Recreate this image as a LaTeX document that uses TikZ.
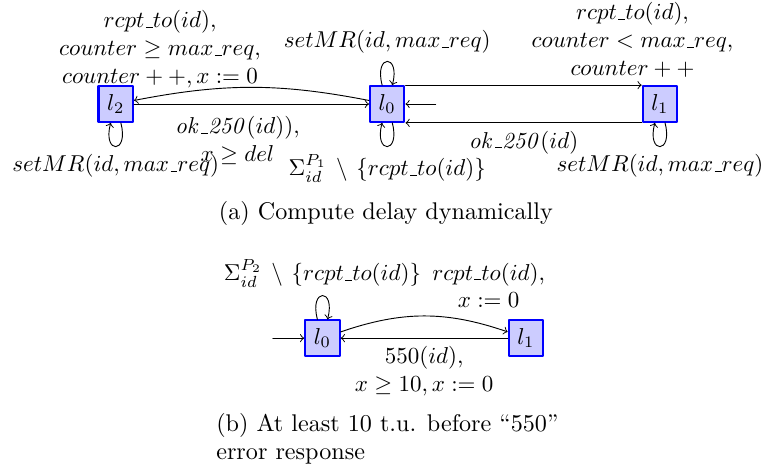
\documentclass[tikz,border=0pt]{standalone}
\definecolor{locfill}{RGB}{204,204,255}
\newcommand{\uscore}{\kern.06em\vbox{\hrule width.3em}}
\tikzset{
    loc/.style={
        rectangle, draw=blue, fill=locfill, line width=0.9pt,
        minimum width=15pt, minimum height=15.5pt
    },
    lbl/.style={
        align=center
    },
    captxt/.style={
        font=\fontsize{10.5}{12.5}\selectfont
    }
}

\begin{document}
\begin{tikzpicture}[line cap=round,line join=round]

% --- frame ---
    \useasboundingbox (0,0) rectangle (11.65,-7.18);

% --- (a) locations ---
    \node[loc] (l2) at (1.77,-1.59) {$l_2$};
    \node[loc] (l0) at (5.92,-1.59) {$l_0$};
    \node[loc] (l1) at (10.09,-1.59) {$l_1$};
    \coordinate (init) at (6.66,-1.59);

% --- (a) edges ---
    \draw[->] (init) -- (l0);
    \draw[->] (l0) to[bend right=11]
      node[lbl, pos=0.9, above] (lblA) {$rcpt\uscore to(id),$\\ $counter \geq max\uscore req,$\\ $counter++, x := 0$} (l2);
    \draw[->] (l2) --
      node[lbl, pos=0.44, below, yshift=-2pt] (lblB) {$\mathit{ok\uscore 250}(id)),$\\ $x \geq del$} (l0);
    \draw[->] (l0.north east) --
      node[lbl, above right] (lblC) {$rcpt\uscore to(id),$\\ $counter < max\uscore req,$\\ $counter++$} (l1.north west);
    \draw[->] (l1.south west) --
      node[below] (lblD) {$\mathit{ok\uscore 250}(id)$} (l0.south east);

% self loops
    \draw[->] (l0) to[loop above] node (selfA) {$setMR(id, max\uscore req)$} (l0);
    \draw[->] (l0) to[loop below] node (selfB) {$\Sigma^{P_1}_{id} \,\setminus\, \{rcpt\uscore to(id)\}$} (l0);
    \draw[->] (l2) to[loop below] node (selfC) {$setMR(id, max\uscore req)$} (l2);
    \draw[->] (l1) to[loop below] node (selfD) {$setMR(id, max\uscore req)$} (l1);

% --- (b) locations ---
    \node[loc] (m0) at (4.93,-5.17) {$l_0$};
    \node[loc] (m1) at (8.04,-5.17) {$l_1$};
    \coordinate (minit) at (4.17,-5.17);

% --- (b) edges ---
    \draw[->] (minit) -- (m0);
    \draw[->] (m0) to[loop above] node (selfE) {$\Sigma^{P_2}_{id} \,\setminus\, \{rcpt\uscore to(id)\}$} (m0);
    \draw[->] (m0) to[bend left=19]
      node[lbl, above right] (lblE) {$rcpt\uscore to(id),$\\ $x := 0$} (m1);
    \draw[->] (m1) --
      node[lbl, below] (lblF) {$550(id),$\\ $x \geq 10, x := 0$} (m0);

% captions
    \node[captxt] (capA) at (5.90,-3.26) {(a) Compute delay dynamically};
    \node[captxt, anchor=west, align=left, inner sep=0] (capB) at (3.30,-6.71)
      {(b) At least 10 t.u. before ``550''\\ error response};

  \end{tikzpicture}
\end{document}
